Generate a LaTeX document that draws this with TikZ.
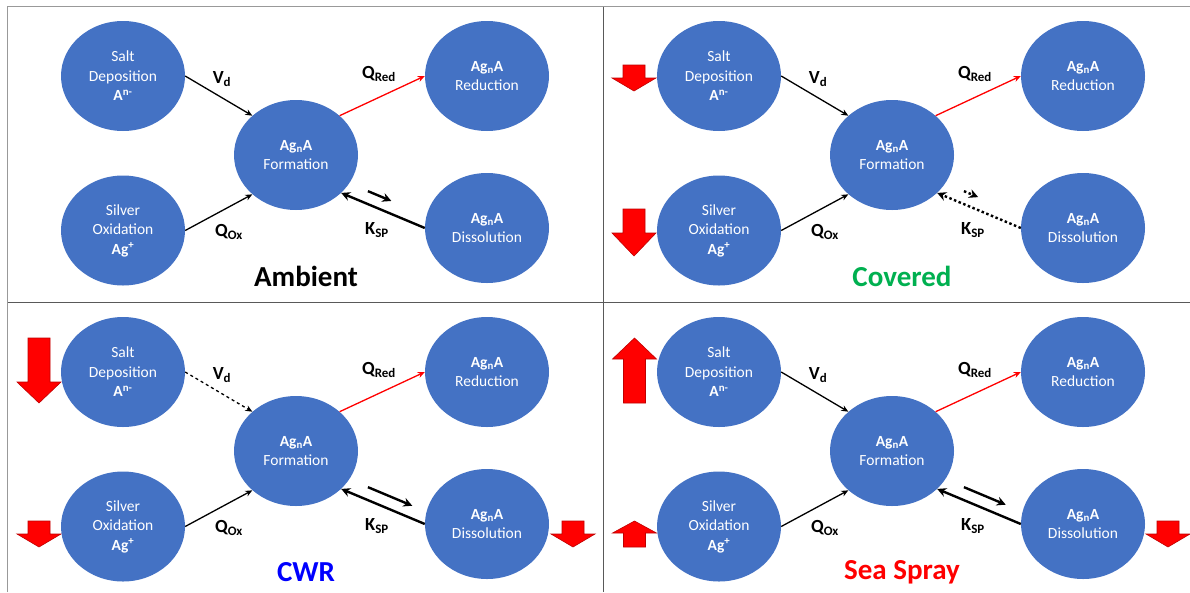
\documentclass[tikz,border=0pt]{standalone}
\usepackage{fontspec}
\setmainfont{Carlito}
\usetikzlibrary{arrows.meta,shapes.geometric,calc}
\definecolor{nodeblue}{HTML}{4472C4}
\definecolor{covgreen}{HTML}{00B050}
\definecolor{cwrblue}{HTML}{0000FF}
\tikzset{
    blob/.style={ellipse, fill=nodeblue, minimum width=124pt, minimum height=110pt, inner sep=0pt,
        text=white, align=center, font=\fontsize{15.5}{19.5}\selectfont}, % circles of the reaction scheme
    thin flow/.style={-{Stealth[length=7pt,width=6pt]}, line width=1.3pt},
    red flow/.style={thin flow, red},
    ksp flow/.style={-{Stealth[length=9pt,width=9pt]}, line width=2.4pt},
    lbl/.style={font=\fontsize{18.5}{18.5}\selectfont\bfseries},
    title/.style={font=\fontsize{29}{29}\selectfont\bfseries},
    dots/.style={dash pattern=on 2.5pt off 2.5pt},
    frame/.style={gray!80, line width=1.3pt},
    divider/.style={black!65, line width=1.3pt},
    block/.style={fill=red, draw=red!75!black, line width=0.6pt}
}
% red block arrow: centre x, base y, neck y, tip y
\newcommand\redarrow[4]{\draw[block] (#1-11,#2) -- (#1+11,#2) -- (#1+11,#3) -- (#1+22,#3) -- (#1,#4) -- (#1-22,#3) -- (#1-11,#3) -- cycle;}
% one panel: x shift, y shift, prefix, title, title colour, V_d style, K_SP style, end of small arrow
\newcommand\drawpanel[8]{%
    \begin{scope}[shift={(#1,#2)}]
        \node[blob] (#3salt) at (123,76) {Salt\\Deposition\\\textbf{A\textsuperscript{n-}}};
        \node[blob] (#3silver) at (123,230.5) {Silver\\Oxidation\\\textbf{Ag\textsuperscript{+}}};
        \node[blob] (#3form) at (296,155) {\textbf{Ag\textsubscript{n}A}\\Formation};
        \node[blob] (#3red) at (487,76) {\textbf{Ag\textsubscript{n}A}\\Reduction};
        \node[blob] (#3diss) at (487,228) {\textbf{Ag\textsubscript{n}A}\\Dissolution};
        \draw[thin flow,#6] (#3salt.east) -- (#3form.138);
        \draw[red flow] (#3form.42) -- (#3red.west);
        \draw[thin flow] (#3silver.east) -- (#3form.222);
        \draw[ksp flow,#7] (#3diss.west) -- (#3form.320);
        \coordinate (#3k1) at ($(#3form.320)!0.32!(#3diss.west)+(0,-13)$);
        \coordinate (#3k2) at ($(#3form.320)!#8!(#3diss.west)+(0,-13)$);
        \draw[ksp flow,#7] (#3k1) -- (#3k2);
        \node[lbl] (#3vd) at (222,79) {V\textsubscript{d}};
        \node[lbl] (#3qred) at (379,74) {Q\textsubscript{Red}};
        \node[lbl] (#3qox) at (229,232) {Q\textsubscript{Ox}};
        \node[lbl] (#3ksp) at (377,230) {K\textsubscript{SP}};
        \node[title, text=#5] (#3title) at (306,276) {#4};
    \end{scope}}

\begin{document}
\begin{tikzpicture}[x=1pt, y=-1pt]
    \useasboundingbox (0,0) rectangle (1190,592);
    % frame and dividers
    \draw[frame] (7.7,592) -- (7.7,6.5) -- (1190,6.5);
    \draw[divider] (603.3,6.5) -- (603.3,592);
    \draw[divider] (7.7,302.7) -- (1190,302.7);

    % red block arrows
    \redarrow{634}{65}{78}{91}
    \redarrow{634}{209}{233}{256}
    \redarrow{39}{338}{382}{403}
    \redarrow{39}{521}{534}{547}
    \redarrow{573}{521}{534}{547}
    \redarrow{634.5}{403}{359}{338}
    \redarrow{634.5}{547}{533}{521}
    \redarrow{1168}{521}{534}{547}

    \drawpanel{0}{0}{amb}{Ambient}{black}{}{}{0.6}
    \drawpanel{596}{0}{cov}{Covered}{covgreen}{}{dots}{0.49}
    \drawpanel{0}{296}{cwr}{CWR}{cwrblue}{dashed}{}{0.85}
    \drawpanel{596}{296}{sea}{Sea Spray}{red}{}{}{0.82}
\end{tikzpicture}
\end{document}
